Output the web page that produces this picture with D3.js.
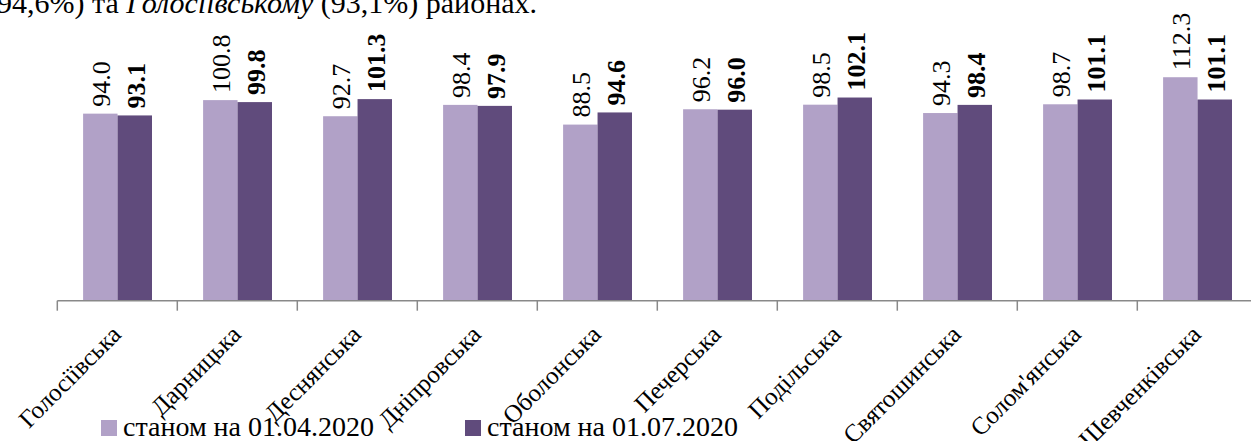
<!DOCTYPE html>
<html>
<head>
<meta charset="utf-8">
<script src="https://cdn.jsdelivr.net/npm/d3@7"></script>
<style>
  html, body { margin: 0; padding: 0; background: #fff; }
  svg { display: block; }
</style>
</head>
<body>
<svg id="chart" width="1251" height="441"></svg>
<script>
const categories = ["Голосіївська", "Дарницька", "Деснянська", "Дніпровська", "Оболонська",
                    "Печерська", "Подільська", "Святошинська", "Солом'янська", "Шевченківська"];
const seriesNames = ["станом на 01.04.2020", "станом на 01.07.2020"];
const aprilValues = [94.0, 100.8, 92.7, 98.4, 88.5, 96.2, 98.5, 94.3, 98.7, 112.3];
const julyValues  = [93.1, 99.8, 101.3, 97.9, 94.6, 96.0, 102.1, 98.4, 101.1, 101.1];
const valueLabels = ["94.0","100.8","92.7","98.4","88.5","96.2","98.5","94.3","98.7","112.3"];
const valueLabels2 = ["93.1","99.8","101.3","97.9","94.6","96.0","102.1","98.4","101.1","101.1"];
const colors = ["#B1A1C7", "#604B7C"];
const FONT = "Liberation Serif";

const svg = d3.select("#chart");

const headText = svg.append("text").attr("x", -3).attr("y", 13)
  .style("font-family", FONT).style("font-size", "30px");
headText.append("tspan").text("94,6%) та ");
headText.append("tspan").style("font-style", "italic").text("Голосіївському");
headText.append("tspan").text(" (93,1%) районах.");

const axisY = 300.7;
const x = d3.scaleBand().domain(categories).range([57.3, 1257.3]).padding(0);
const xi = d3.scaleBand().domain([0, 1]).range([25.8, 94.7]).padding(0);
const y = d3.scaleLinear().domain([0, 120]).range([axisY, axisY - 120 * 1.99]);

const series = [aprilValues, julyValues];
const labels = [valueLabels, valueLabels2];

series.forEach((vals, si) => {
  const g = svg.append("g").attr("class", "series" + si);
  g.selectAll("rect").data(categories).enter().append("rect")
    .attr("x", c => x(c) + xi(si))
    .attr("width", xi.bandwidth())
    .attr("y", (c, i) => y(vals[i]))
    .attr("height", (c, i) => axisY - y(vals[i]))
    .attr("fill", colors[si]);
  const lg = g.selectAll("g.lbl").data(categories).enter().append("g")
    .attr("class", "lbl")
    .attr("transform", (c, i) => "translate(" + (x(c) + xi(si) + xi.bandwidth() / 2 + 10) + "," + (y(vals[i]) - 7) + ")");
  lg.append("text")
    .attr("transform", "rotate(-90)")
    .attr("x", 0).attr("y", 0)
    .style("font-family", FONT)
    .style("font-size", "26px")
    .style("font-weight", si === 1 ? "bold" : "normal")
    .text((c, i) => labels[si][i]);
});

const axisColor = "#898989";
svg.append("line").attr("x1", x.range()[0]).attr("x2", 1251)
  .attr("y1", axisY).attr("y2", axisY).attr("stroke", axisColor).attr("stroke-width", 1.5);
svg.selectAll(".tick").data(categories).enter().append("line")
  .attr("x1", c => x(c)).attr("x2", c => x(c))
  .attr("y1", axisY).attr("y2", axisY + 10)
  .attr("stroke", axisColor).attr("stroke-width", 1.5);

svg.selectAll(".cat").data(categories).enter().append("text")
  .attr("transform", c => "translate(" + (x(c) + x.bandwidth() / 2 + 5) + ",336) rotate(-45)")
  .attr("text-anchor", "end")
  .style("font-family", FONT)
  .style("font-size", "25px")
  .text(c => c);

const legendX = [101, 465];
seriesNames.forEach((name, i) => {
  svg.append("rect").attr("x", legendX[i]).attr("y", 420).attr("width", 16).attr("height", 16).attr("fill", colors[i]);
  svg.append("text").attr("x", legendX[i] + 22).attr("y", 436)
    .style("font-family", FONT).style("font-size", "28px").text(name);
});
</script>
</body>
</html>
